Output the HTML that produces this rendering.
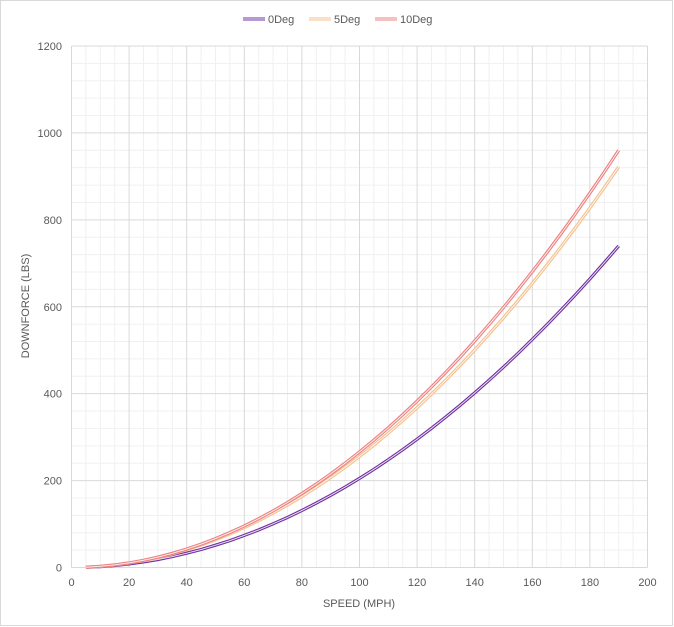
<!DOCTYPE html>
<html><head><meta charset="utf-8"><style>
body{margin:0;background:#fff;}
svg{display:block;font-family:"Liberation Sans",sans-serif;}
</style></head><body>
<svg id="s" width="674" height="627" xmlns="http://www.w3.org/2000/svg">
<rect x="0.5" y="0.5" width="672" height="625" fill="#fff" stroke="#d9d9d9"/>
<g id="grid"></g>
<g id="lines"></g>
<g font-size="11" fill="#595959" id="labels"></g>
<text x="359" y="607" font-size="11" fill="#595959" text-anchor="middle">SPEED (MPH)</text>
<text transform="translate(29,306) rotate(-90)" font-size="11" fill="#595959" text-anchor="middle">DOWNFORCE (LBS)</text>
<g font-size="11" fill="#595959">
<line x1="243" y1="19" x2="265" y2="19" stroke="#7030a0" stroke-width="3"/><line x1="243" y1="19" x2="265" y2="19" stroke="#fff" stroke-width="1"/>
<text x="268" y="23">0Deg</text>
<line x1="309" y1="19" x2="331" y2="19" stroke="#f4c08e" stroke-width="3"/><line x1="309" y1="19" x2="331" y2="19" stroke="#fff" stroke-width="1"/>
<text x="334" y="23">5Deg</text>
<line x1="375" y1="19" x2="397" y2="19" stroke="#ee8080" stroke-width="3"/><line x1="375" y1="19" x2="397" y2="19" stroke="#fff" stroke-width="1"/>
<text x="400" y="23">10Deg</text>
</g>
</svg>
<script>
const NS="http://www.w3.org/2000/svg";
const L=71.5,R=647.5,T=46,B=567.5;
const X=v=>L+(R-L)*v/200, Y=v=>B-(B-T)*v/1200;
const g=document.getElementById('grid'),lb=document.getElementById('labels'),ln=document.getElementById('lines');
function el(p,t,a){const e=document.createElementNS(NS,t);for(const k in a)e.setAttribute(k,a[k]);p.appendChild(e);return e;}
for(let v=0;v<=200;v+=5){if(v%20)el(g,'line',{x1:X(v),x2:X(v),y1:T,y2:B,stroke:'#f0f0f0'});}
for(let v=0;v<=1200;v+=40){if(v%200)el(g,'line',{x1:L,x2:R,y1:Y(v),y2:Y(v),stroke:'#f0f0f0'});}
for(let v=0;v<=200;v+=20){el(g,'line',{x1:X(v),x2:X(v),y1:T,y2:B,stroke:'#d9d9d9'});const t=el(lb,'text',{x:X(v),y:586,'text-anchor':'middle'});t.textContent=v;}
for(let v=0;v<=1200;v+=200){el(g,'line',{x1:L,x2:R,y1:Y(v),y2:Y(v),stroke:'#d9d9d9'});const t=el(lb,'text',{x:62,y:Y(v)+4,'text-anchor':'end'});t.textContent=v;}
const S=[[740,'#7030a0'],[922,'#f4c08e'],[960,'#ee8080']];
for(const [m,c] of S){let d='';for(let v=5;v<=190;v+=5){const f=m*Math.pow(v/190,2);d+=(v==5?'M':'L')+X(v).toFixed(1)+','+Y(f).toFixed(1);}
el(ln,'path',{d:d,fill:'none',stroke:c,'stroke-width':3.2});el(ln,'path',{d:d,fill:'none',stroke:'#fff','stroke-width':1,'stroke-opacity':0.85});}
</script>
</body></html>
